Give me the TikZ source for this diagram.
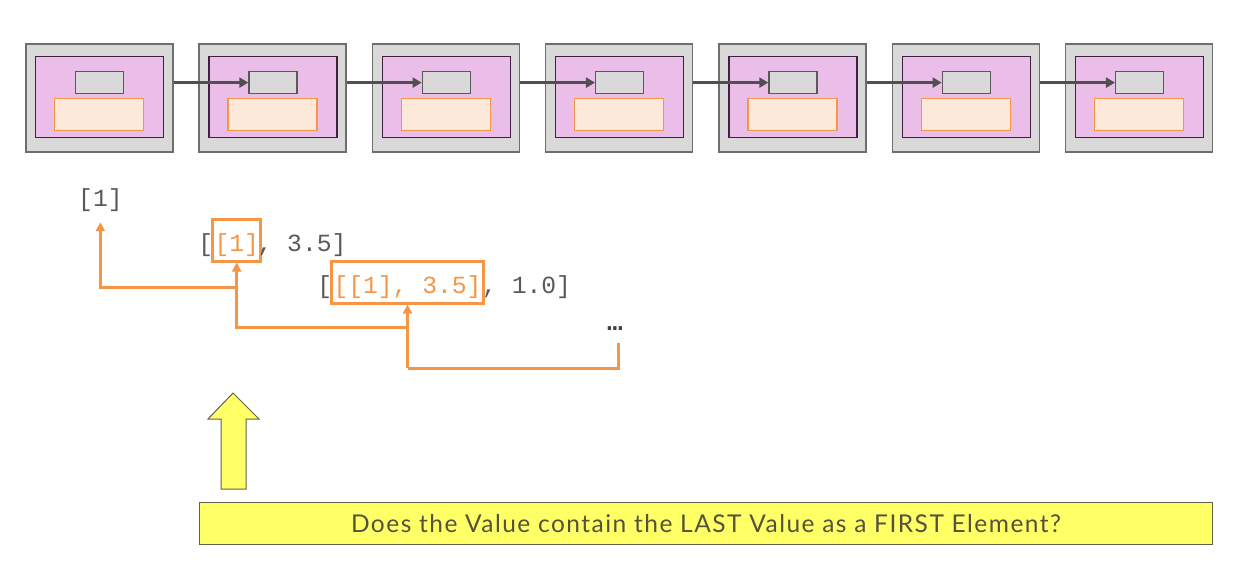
\documentclass[tikz,border=0pt]{standalone}
\usepackage{fontspec}
\setmonofont{Liberation Mono}
\newfontfamily\qfont[LetterSpace=6]{Lato}
\usetikzlibrary{arrows.meta,calc}
\definecolor{outerfill}{RGB}{217,217,217}
\definecolor{outerdraw}{RGB}{110,110,110}
\definecolor{pinkfill}{RGB}{235,190,234}
\definecolor{pinkdraw}{RGB}{64,32,64}
\definecolor{smalldraw}{RGB}{89,89,89}
\definecolor{peachfill}{RGB}{253,233,217}
\definecolor{peachdraw}{RGB}{247,150,70}
\definecolor{linkcol}{RGB}{80,80,80}
\definecolor{orng}{RGB}{245,150,70}
\definecolor{codegray}{RGB}{89,89,89}
\definecolor{yel}{RGB}{255,255,102}
\definecolor{yeldraw}{RGB}{100,96,70}
\definecolor{qtext}{RGB}{85,82,60}
\tikzset{
  outerbox/.style={draw=outerdraw,fill=outerfill,line width=1.5pt,minimum width=147pt,minimum height=108pt,inner sep=0pt,anchor=north west},
  pinkbox/.style={draw=pinkdraw,fill=pinkfill,line width=1.2pt,minimum width=128pt,minimum height=81pt,inner sep=0pt,anchor=north west},
  smallbox/.style={draw=smalldraw,fill=outerfill,line width=1.2pt,minimum width=48pt,minimum height=22pt,inner sep=0pt,anchor=north west},
  peachbox/.style={draw=peachdraw,fill=peachfill,line width=1.2pt,minimum width=89pt,minimum height=32pt,inner sep=0pt,anchor=north west},
  link/.style={draw=linkcol,line width=3.5pt,-{Triangle[width=10pt,length=9pt]}},
  code/.style={font=\ttfamily\fontsize{24.67}{30}\selectfont,text=codegray,inner sep=0pt,anchor=base west,text height=31pt,text depth=12pt},
  hl/.style={code,draw=orng,line width=3pt,text=orng,inner xsep=2pt,inner ysep=0pt,text depth=10pt,text height=32pt},
  oarrow/.style={draw=orng,line width=3pt,-{Triangle[width=9pt,length=9pt]}},
  oline/.style={draw=orng,line width=3pt},
}
\begin{document}
\begin{tikzpicture}[x=1pt,y=-1pt]
\useasboundingbox (0,0) rectangle (1258,587);
% top chain
\foreach \i in {1,...,7}{
  \pgfmathsetmacro{\bx}{25+173.33*(\i-1)}
  \node[outerbox] (o\i) at (\bx,43) {};
  \node[pinkbox] (p\i) at (\bx+10,56) {};
  \node[smallbox] (g\i) at (\bx+50,71) {};
  \node[peachbox] (r\i) at (\bx+29,98) {};
}
\foreach \a/\b in {1/2,2/3,3/4,4/5,5/6,6/7}{
  \draw[link] (o\a.east |- g\b.west) -- (g\b.west);
}
% code rows (char width 14.8)
\node[code,text depth=16pt] (n1) at (78,206) {[1]};
\node[code] (r2a) at (198.2,251) {[};
\node[hl] (box2) at (211,251) {[1]};
\node[code] (r2b) at (257.4,251) {, 3.5]};
\node[code] (r3a) at (317.2,293) {[};
\node[hl] (box3) at (330,293) {[[1], 3.5]};
\node[code] (r3b) at (482,293) {, 1.0]};
\node[font=\ttfamily\bfseries\fontsize{26}{30}\selectfont,text=black!75,inner sep=0pt] (dots) at (615,329) {…};
\coordinate (dend) at (618,343);
% orange connectors
\draw[oarrow] (box2.south |- 0,287) -| (n1.south);
\draw[oarrow] (box3.south |- 0,327) -| (box2.south);
\draw[oline] (dend) |- (box3.south |- 0,368);
\draw[oarrow] (box3.south |- 0,368) -- (box3.south);
% yellow block arrow
\draw[fill=yel,draw=yeldraw,line width=1pt,line join=miter] (233,393) -- (259,419) -- (246,419) -- (246,489) -- (221,489) -- (221,419) -- (208,419) -- cycle;
% question box
\node[draw=yeldraw,fill=yel,line width=1pt,minimum width=1013pt,minimum height=42pt,inner sep=0pt,anchor=north west,font=\qfont\fontsize{24.5}{28}\selectfont,text=qtext] (q) at (199,502) {Does the Value contain the LAST Value as a FIRST Element?};
\end{tikzpicture}
\end{document}
